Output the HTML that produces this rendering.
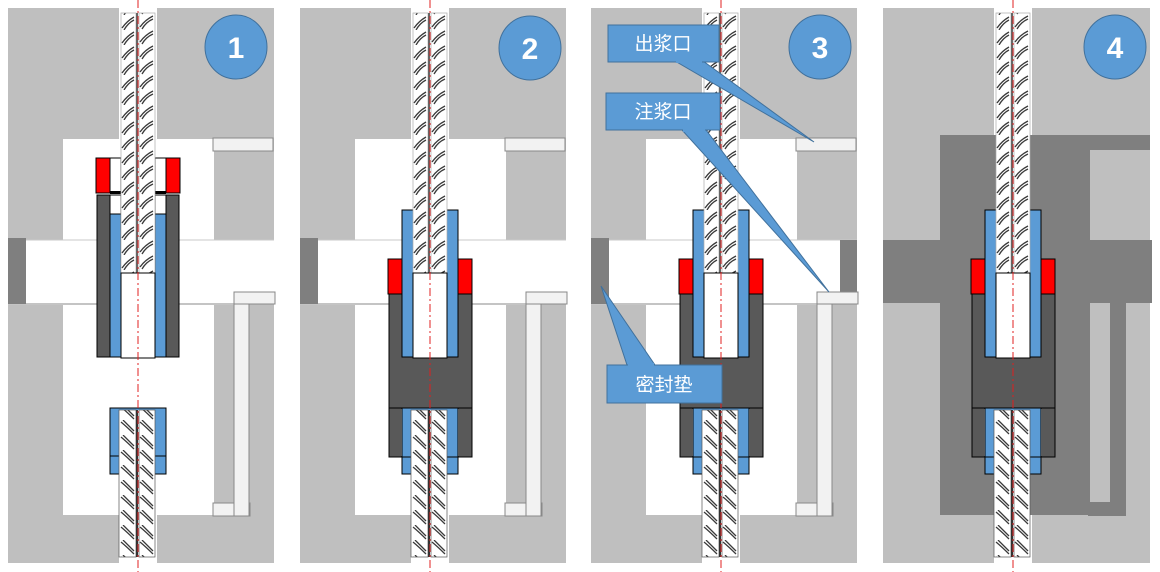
<!DOCTYPE html>
<html><head><meta charset="utf-8"><style>
html,body{margin:0;padding:0;background:#fff;}
svg{display:block;}
text{font-family:"Liberation Sans","Noto Sans CJK SC",sans-serif;}
</style></head><body>
<svg width="1160" height="572" viewBox="0 0 1160 572" xmlns="http://www.w3.org/2000/svg">
<defs>
<pattern id="ribU" patternUnits="userSpaceOnUse" x="0" y="0" width="40" height="15">
 <path d="M2,13 q5,-7 12,-11 M4,15 q4,-7 10,-10 M20,12 q5,-7 13,-11 M22,14 q4,-7 11,-10" stroke="#3a3a3a" stroke-width="1.3" fill="none"/>
</pattern>
<pattern id="ribD" patternUnits="userSpaceOnUse" x="0" y="0" width="40" height="15">
 <path d="M1,2 q6,5 13,12 M3,0 q5,5 11,11 M20,2 q6,5 13,12 M22,0 q5,5 11,11" stroke="#3a3a3a" stroke-width="1.3" fill="none"/>
</pattern>
<g id="rebarTop">
 <rect x="121" y="13" width="34" height="261" fill="#fff"/>
 <rect x="121" y="13" width="34" height="261" fill="url(#ribU)"/>
 <rect x="121" y="13" width="15" height="261" fill="none" stroke="#aaa" stroke-width="0.7"/>
 <rect x="139" y="13" width="16" height="261" fill="none" stroke="#aaa" stroke-width="0.7"/>
 <rect x="136" y="13" width="2" height="261" fill="#666"/>
</g>
<g id="rebarBot">
 <rect x="119" y="410" width="36" height="147" fill="#fff"/>
 <rect x="119" y="410" width="36" height="147" fill="url(#ribD)"/>
 <rect x="119" y="410" width="17" height="147" fill="none" stroke="#555" stroke-width="0.7"/>
 <rect x="139" y="410" width="16" height="147" fill="none" stroke="#555" stroke-width="0.7"/>
 <rect x="136" y="410" width="2" height="147" fill="#333"/>
</g>
<g id="bgLight">
 <rect x="8" y="8" width="266" height="555" fill="#bfbfbf"/>
 <rect x="63" y="139" width="151" height="101" fill="#fff"/>
 <rect x="8" y="240" width="266" height="63" fill="#fff"/>
 <line x1="8" y1="240" x2="274" y2="240" stroke="#c8c8c8"/>
 <line x1="8" y1="304" x2="274" y2="304" stroke="#c8c8c8"/>
 <rect x="63" y="305" width="151" height="210" fill="#fff"/>
 <rect x="119" y="8" width="38" height="555" fill="#fff"/>
 <rect x="8" y="238" width="18" height="66" fill="#7f7f7f"/>
 <rect x="213" y="138" width="60" height="13" fill="#f2f2f2" stroke="#888"/>
 <rect x="213" y="503" width="37" height="13" fill="#f2f2f2" stroke="#888"/>
 <rect x="234" y="292" width="15" height="224" fill="#f2f2f2" stroke="#888"/>
 <rect x="234" y="292" width="41" height="12" fill="#f2f2f2" stroke="#888"/>
</g>
<g id="sleeve234">
 <rect x="97" y="294" width="83" height="163" fill="#595959" stroke="#000"/>
 <rect x="110" y="210" width="56" height="147" fill="#5b9bd5" stroke="#000"/>
 <rect x="96" y="259" width="14" height="35" fill="#ff0000" stroke="#000"/>
 <rect x="166" y="259" width="14" height="35" fill="#ff0000" stroke="#000"/>
 <rect x="110" y="408" width="56" height="66" fill="#5b9bd5" stroke="#000"/>
 <rect x="97" y="408" width="83" height="49" fill="none" stroke="#000"/>
 <rect x="98" y="409" width="12" height="47" fill="#595959"/>
 <rect x="166" y="409" width="13" height="47" fill="#595959"/>
 <line x1="110" y1="457" x2="166" y2="457" stroke="#000"/>
</g>
<g id="centerPlug">
 <rect x="121" y="273" width="34" height="85" fill="#fff" stroke="#000"/>
</g>
</defs>

<!-- Panel 1 -->
<g>
 <use href="#bgLight"/>
 <rect x="97" y="195" width="13" height="162" fill="#595959" stroke="#000"/>
 <rect x="166" y="195" width="13" height="162" fill="#595959" stroke="#000"/>
 <rect x="110" y="214" width="11" height="143" fill="#5b9bd5" stroke="#000"/>
 <rect x="155" y="214" width="11" height="143" fill="#5b9bd5" stroke="#000"/>
 <rect x="110" y="195" width="11" height="19" fill="#fff" stroke="#000"/>
 <rect x="155" y="195" width="11" height="19" fill="#fff" stroke="#000"/>
 <rect x="96" y="158" width="14" height="35" fill="#ff0000" stroke="#000"/>
 <rect x="166" y="158" width="14" height="35" fill="#ff0000" stroke="#000"/>
 <rect x="110" y="158" width="11" height="35" fill="#fff" stroke="#000"/>
 <rect x="155" y="158" width="11" height="35" fill="#fff" stroke="#000"/>
 <rect x="110" y="191" width="11" height="3" fill="#000"/>
 <rect x="155" y="191" width="11" height="3" fill="#000"/>
 <use href="#rebarTop"/>
 <use href="#centerPlug"/>
 <rect x="110" y="408" width="56" height="66" fill="#5b9bd5" stroke="#000"/>
 <line x1="110" y1="456" x2="166" y2="456" stroke="#000"/>
 <use href="#rebarBot"/>
 <line x1="138" y1="0" x2="138" y2="572" stroke="#e02020" stroke-width="1" stroke-dasharray="8,3,2,3"/>
 <ellipse cx="236" cy="47" rx="31" ry="32" fill="#5b9bd5" stroke="#41719c"/>
 <text x="236" y="58" font-size="30" font-weight="bold" fill="#fff" text-anchor="middle">1</text>
</g>

<!-- Panel 2 -->
<g transform="translate(292,0)">
 <use href="#bgLight"/>
 <use href="#sleeve234"/>
 <use href="#rebarTop"/>
 <use href="#centerPlug"/>
 <use href="#rebarBot"/>
 <line x1="138" y1="0" x2="138" y2="572" stroke="#e02020" stroke-width="1" stroke-dasharray="8,3,2,3"/>
 <ellipse cx="238" cy="48" rx="31" ry="32" fill="#5b9bd5" stroke="#41719c"/>
 <text x="238" y="59" font-size="30" font-weight="bold" fill="#fff" text-anchor="middle">2</text>
</g>

<!-- Panel 3 -->
<g transform="translate(583,0)">
 <use href="#bgLight"/>
 <rect x="257" y="240" width="17" height="52" fill="#7f7f7f"/>
 <rect x="234" y="292" width="41" height="12" fill="#f2f2f2" stroke="#888"/>
 <use href="#sleeve234"/>
 <use href="#rebarTop"/>
 <use href="#centerPlug"/>
 <use href="#rebarBot"/>
 <line x1="138" y1="0" x2="138" y2="572" stroke="#e02020" stroke-width="1" stroke-dasharray="8,3,2,3"/>
 <ellipse cx="237" cy="47" rx="31" ry="32" fill="#5b9bd5" stroke="#41719c"/>
 <text x="237" y="58" font-size="30" font-weight="bold" fill="#fff" text-anchor="middle">3</text>
</g>
<g fill="#5b9bd5" stroke="#41719c" stroke-width="1">
 <polygon points="675,61 703,61 814,142"/>
 <rect x="608" y="25" width="111" height="37"/>
 <polygon points="682,130 706,130 829,292"/>
 <rect x="606" y="93" width="114" height="37"/>
 <polygon points="627,365 655,365 601,286"/>
 <rect x="607" y="365" width="115" height="38"/>
</g>
<g fill="#5b9bd5">
 <rect x="676" y="58" width="26" height="5"/>
 <rect x="683" y="127" width="22" height="5"/>
 <rect x="628" y="363" width="26" height="5"/>
</g>
<g font-size="19" fill="#fff" text-anchor="middle">
 <text x="663" y="50">出浆口</text>
 <text x="663" y="118">注浆口</text>
 <text x="664" y="391">密封垫</text>
</g>

<!-- Panel 4 -->
<g transform="translate(875,0)">
 <rect x="8" y="8" width="267" height="555" fill="#bfbfbf"/>
 <rect x="65" y="135" width="210" height="380" fill="#7f7f7f"/>
 <rect x="8" y="240" width="269" height="63" fill="#7f7f7f"/>
 <rect x="215" y="150" width="60" height="90" fill="#bfbfbf"/>
 <rect x="215" y="303" width="20" height="199" fill="#bfbfbf"/>
 <rect x="251" y="303" width="24" height="260" fill="#bfbfbf"/>
 <rect x="213" y="502" width="38" height="14" fill="#7f7f7f"/>
 <rect x="213" y="516" width="38" height="47" fill="#bfbfbf"/>
 <rect x="119" y="8" width="38" height="127" fill="#fff"/>
 <rect x="119" y="515" width="38" height="48" fill="#fff"/>
 <use href="#sleeve234"/>
 <use href="#rebarTop"/>
 <use href="#centerPlug"/>
 <use href="#rebarBot"/>
 <line x1="138" y1="0" x2="138" y2="572" stroke="#e02020" stroke-width="1" stroke-dasharray="8,3,2,3"/>
 <ellipse cx="240" cy="47" rx="31" ry="32" fill="#5b9bd5" stroke="#41719c"/>
 <text x="240" y="58" font-size="30" font-weight="bold" fill="#fff" text-anchor="middle">4</text>
</g>
</svg>
</body></html>
